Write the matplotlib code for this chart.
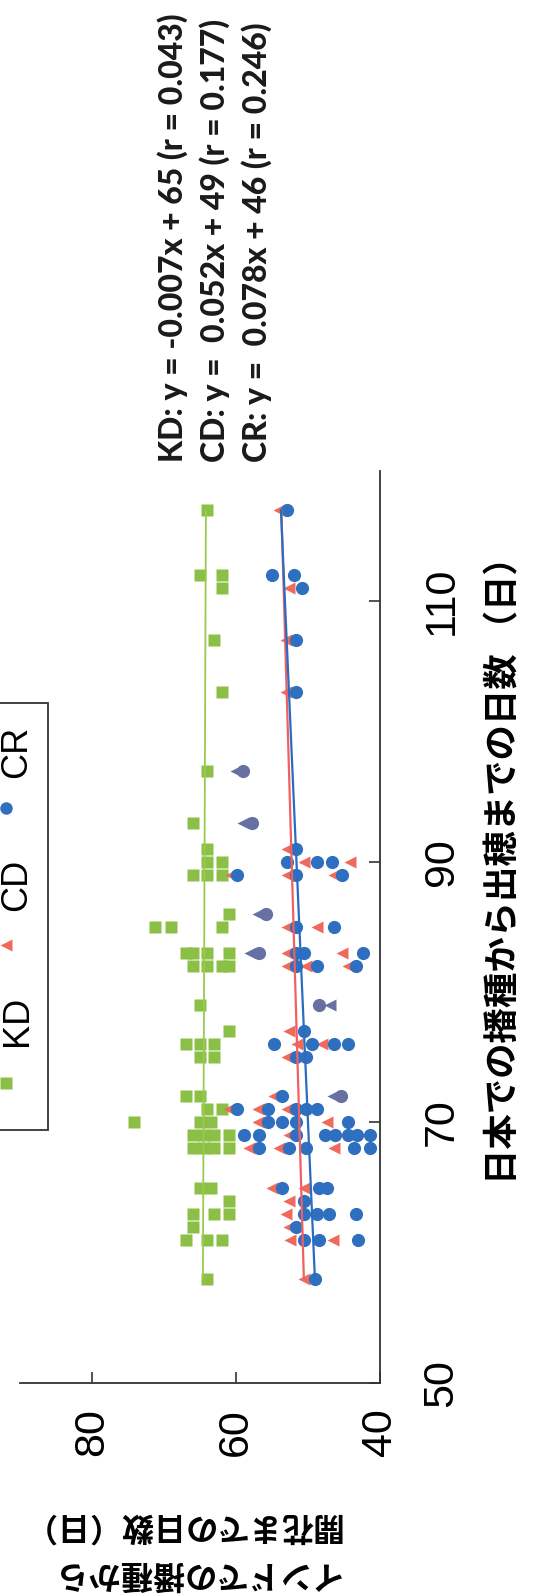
import numpy as np
import matplotlib.pyplot as plt
from matplotlib.lines import Line2D
from matplotlib.patches import Rectangle

# days from sowing to heading in Japan (x) / to flowering in India (y)
kd_x = [58, 61, 61, 61, 62, 63, 63, 63, 64, 65, 65,
        68, 68, 68, 68, 69, 69, 69, 69, 70, 70, 70, 71, 71, 72, 72,
        75, 75, 76, 76, 76, 77, 79, 82, 82, 82, 82, 83, 83, 83, 83,
        85, 85, 85, 86, 89, 89, 89, 90, 90, 91, 93, 97, 103, 107, 111, 112, 112, 117]
kd_y = [64, 67, 64, 62, 66, 66, 63, 61, 61, 65, 63.5,
        66, 64.5, 63, 61, 66, 64.5, 63, 61, 74.2, 65, 63.5, 64, 62, 67, 65,
        65, 63, 67, 65, 63, 61, 65, 66, 64, 62, 61, 67, 66, 64, 61,
        71.3, 69, 62, 61, 66, 64, 62, 64, 62, 64, 66, 64, 62, 63, 62, 65, 62, 64]

cd_x = [58, 61, 61, 62, 63, 64, 65, 65, 68, 68, 68, 69, 70, 70, 71, 71, 71, 72,
        75, 76, 76, 77, 82, 82, 82, 83, 83, 85, 85, 89, 89, 89, 90, 90, 91,
        103, 107, 111, 117]
cd_y = [50.5, 52.5, 46.5, 52.7, 53, 52.7, 55, 50.6, 58.2, 54, 46.4, 52.6, 57, 47.4,
        61, 57, 52.9, 54.7, 52.9, 51.5, 48, 52.7, 52.9, 50.3, 44.4, 52.9, 45.3,
        52.9, 48.7, 60.7, 52.9, 46.4, 50.6, 44.1, 52.9, 53.1, 53.1, 52.7, 54]

cr_x = [58, 61, 61, 61, 62, 63, 63, 63, 63, 64, 65, 65, 65,
        68, 68, 68, 68, 68, 69, 69, 69, 69, 69, 69, 69, 69,
        70, 70, 70, 70, 71, 71, 71, 71, 71, 72, 75, 75, 76, 76, 76, 76, 77,
        82, 82, 82, 83, 83, 83, 85, 85, 89, 89, 89, 90, 90, 90, 91,
        103, 107, 111, 112, 112, 117]
cr_y = [49, 50.5, 48.5, 43, 51.7, 50.6, 48.7, 47.1, 43.4, 50.6, 53.6, 48.5, 47.4,
        56.8, 52.6, 50.3, 43.6, 41.4, 58.9, 56.8, 51.7, 47.6, 46.2, 44.4, 43.2, 41.4,
        55.6, 53.6, 51.7, 44.4, 59.8, 55.6, 51.7, 50.3, 48.7, 53.6, 51.7, 50.3,
        54.7, 49.4, 46.4, 44.4, 50.6, 51.7, 48.7, 43.4, 51.7, 50.5, 42.3, 51.7, 46.4,
        59.8, 51.7, 45.3, 52.9, 48.7, 46.7, 51.7, 51.7, 51.7, 50.8, 55, 52, 52.9]

# overlapping CD/CR points printed in a purple tone
mix_cd_x = [72, 79, 83, 86, 93, 97]
mix_cd_y = [46.5, 47.0, 58.0, 57.0, 59.0, 60.0]
mix_cr_x = [72, 79, 83, 86, 93, 97]
mix_cr_y = [45.4, 48.5, 56.8, 55.9, 57.8, 59.0]

# regression lines as drawn (slope, intercept)
fits = {"KD": (-0.007, 65.0), "CD": (0.053, 47.5), "CR": (0.080, 44.4)}
eq_texts = ["KD: y = -0.007x + 65 (r = 0.043)",
            "CD: y =  0.052x + 49 (r = 0.177)",
            "CR: y =  0.078x + 46 (r = 0.246)"]

green = "#8cbf45"
red = "#ef6a5c"
blue = "#2f6fbf"
purple = "#6670a3"

W, H = 541, 1596
fig = plt.figure(figsize=(W / 100, H / 100), dpi=100)
fig.patch.set_facecolor("white")

def fx(px):
    return px / W

def fy(py):
    return 1 - py / H

# chart is printed turned 90 degrees: India days run right->left, Japan days bottom->top
ax = fig.add_axes([fx(20), fy(1383), fx(360), (1383 - 471) / H])
ax.set_xlim(90, 40)
ax.set_ylim(50, 120)

ax.plot(kd_y, kd_x, "s", color=green, ms=8.8, mec="none", zorder=2)
ax.plot(cd_y, cd_x, "<", color=red, ms=9, mec="none", zorder=3)
ax.plot(cr_y, cr_x, "o", color=blue, ms=9.5, mec="none", zorder=4)
ax.plot(mix_cd_y, mix_cd_x, "<", color=purple, ms=9, mec="none", zorder=3)
ax.plot(mix_cr_y, mix_cr_x, "o", color=purple, ms=9.5, mec="none", zorder=4)

all_x = np.array(kd_x + cd_x + cr_x)
xs = np.array([all_x.min(), all_x.max()])
for name, col, lw in [("KD", "#9acb50", 1.3), ("CD", "#f06060", 1.6), ("CR", "#2a6cc0", 1.6)]:
    m, b = fits[name]
    ax.plot(m * xs + b, xs, "-", color=col, lw=lw, zorder=5)

for s in ["top", "left"]:
    ax.spines[s].set_visible(False)
for s in ["bottom", "right"]:
    ax.spines[s].set_color("#333333")
    ax.spines[s].set_linewidth(1.3)

ax.set_xticks([40, 60, 80])
ax.set_yticks([50, 70, 90, 110])
ax.yaxis.tick_right()
ax.tick_params(axis="both", direction="in", length=8, width=1.2, color="#333333")
ax.tick_params(axis="x", pad=18, labelrotation=90, labelsize=31)
ax.tick_params(axis="y", pad=30, labelrotation=90, labelsize=31)
for lbl in ax.get_xticklabels() + ax.get_yticklabels():
    lbl.set_family("Liberation Sans")
for lbl in ax.get_yticklabels():
    lbl.set_va("center")

jp = ["Noto Sans CJK JP", "DejaVu Sans"]
fig.text(fx(504), fy(862), "日本での播種から出穂までの日数 （日）", rotation=90,
         ha="center", va="center", fontsize=25.5, family=jp, weight="bold")
fig.text(fx(340), fy(1573), "インドでの播種から", rotation=180,
         ha="right", va="center", fontsize=23, family=jp, weight="bold")
fig.text(fx(340), fy(1525), "開花までの日数（日）", rotation=180,
         ha="right", va="center", fontsize=23, family=jp, weight="bold")

for txt, xp in zip(eq_texts, [173, 215, 257]):
    fig.text(fx(xp), fy(462), txt, rotation=90, ha="center", va="bottom",
             fontsize=23, family="Lato", weight="black", color="#1a1a1a")

# legend box, partly cut by the page edge
fig.add_artist(Rectangle((fx(-40), fy(1130)), fx(88), (1130 - 703) / H,
                         fill=False, ec="#333333", lw=1.3, transform=fig.transFigure))
leg = [("KD", "s", green, 1083, 1021), ("CD", "<", red, 945, 885), ("CR", "o", blue, 808, 752)]
for name, mk, col, my, ty in leg:
    fig.add_artist(Line2D([fx(6)], [fy(my)], marker=mk, color=col, ms=9, mec="none",
                          transform=fig.transFigure))
    fig.text(fx(17), fy(ty), name, rotation=90, ha="center", va="center",
             fontsize=26, family="Liberation Sans")

fig.savefig("out.png", dpi=100, facecolor="white")
